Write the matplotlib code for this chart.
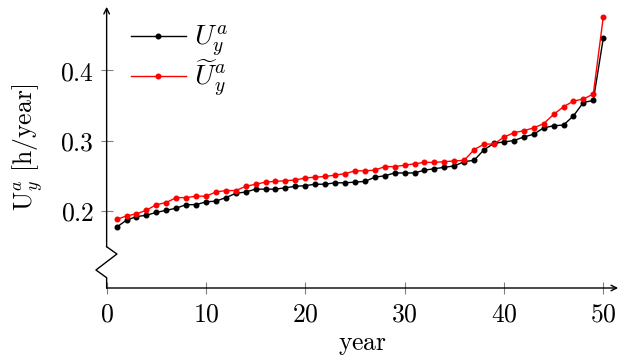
import matplotlib
matplotlib.use('Agg')
import matplotlib.pyplot as plt

plt.rcParams['mathtext.fontset'] = 'cm'
plt.rcParams['font.family'] = 'serif'

years = list(range(1, 51))
u_ya = [0.177, 0.187, 0.192, 0.194, 0.198, 0.201, 0.204, 0.209, 0.209, 0.213,
        0.214, 0.219, 0.225, 0.227, 0.231, 0.231, 0.231, 0.233, 0.235, 0.236,
        0.238, 0.238, 0.240, 0.240, 0.241, 0.242, 0.248, 0.250, 0.254, 0.254,
        0.254, 0.258, 0.260, 0.262, 0.264, 0.270, 0.272, 0.287, 0.296, 0.298,
        0.300, 0.305, 0.309, 0.318, 0.321, 0.322, 0.335, 0.354, 0.357, 0.445]
u_ya_tilde = [0.188, 0.193, 0.196, 0.201, 0.209, 0.212, 0.219, 0.219, 0.221, 0.221,
              0.227, 0.229, 0.229, 0.235, 0.238, 0.241, 0.242, 0.243, 0.244, 0.247,
              0.248, 0.249, 0.251, 0.253, 0.257, 0.257, 0.258, 0.263, 0.263, 0.265,
              0.267, 0.269, 0.269, 0.270, 0.271, 0.272, 0.287, 0.295, 0.295, 0.305,
              0.311, 0.314, 0.318, 0.324, 0.337, 0.348, 0.356, 0.359, 0.366, 0.475]
xticks = [0, 10, 20, 30, 40, 50]
yticks = [0.2, 0.3, 0.4]

fig = plt.figure(figsize=(6.2, 3.6), dpi=100)
ax = fig.add_axes([0.172, 0.2, 0.825, 0.781])

ax.plot(years, u_ya, color='black', lw=1.0, marker='o', ms=3.3, label=r'$U_y^a$')
ax.plot(years, u_ya_tilde, color='red', lw=1.0, marker='o', ms=3.3,
        label=r'$\widetilde{U}_y^a$')

ax.set_xlim(0, 51.5)
ax.set_ylim(0.0907, 0.4898)
ax.set_xticks(xticks, labels=[f'${t}$' for t in xticks])
ax.set_yticks(yticks, labels=[f'${t}$' for t in yticks])
ax.tick_params(direction='inout', length=8, width=0.8, color='gray',
               labelsize=18.5)
ax.tick_params(axis='x', pad=6)
ax.tick_params(axis='y', pad=5)

for s in ax.spines.values():
    s.set_visible(False)

# x axis with arrow
ax.annotate('', xy=(1.0, 0), xytext=(0, 0), xycoords='axes fraction',
            arrowprops=dict(arrowstyle='->', lw=1.0, color='black',
                            shrinkA=0, shrinkB=0))
# y axis with arrow and crunch
ax.annotate('', xy=(0, 1.0), xytext=(0, 0.1468), xycoords='axes fraction',
            arrowprops=dict(arrowstyle='->', lw=1.0, color='black',
                            shrinkA=0, shrinkB=0))
ax.plot([0, 0.0201, -0.0209, 0, 0], [0.1468, 0.1209, 0.064, 0.0366, 0],
        transform=ax.transAxes, color='black', lw=1.0, clip_on=False)

ax.set_xlabel(r'$\mathrm{year}$', fontsize=18.5, labelpad=4)
ax.set_ylabel(r'$\mathrm{U}_y^a\ \mathrm{[h/year]}$', fontsize=18.5, labelpad=10)

ax.legend(loc='upper left', bbox_to_anchor=(0.025, 0.98), frameon=False,
          fontsize=20, handlelength=2.0, handletextpad=0.3, labelspacing=-0.05,
          borderaxespad=0)

fig.savefig('out.png', dpi=100)
